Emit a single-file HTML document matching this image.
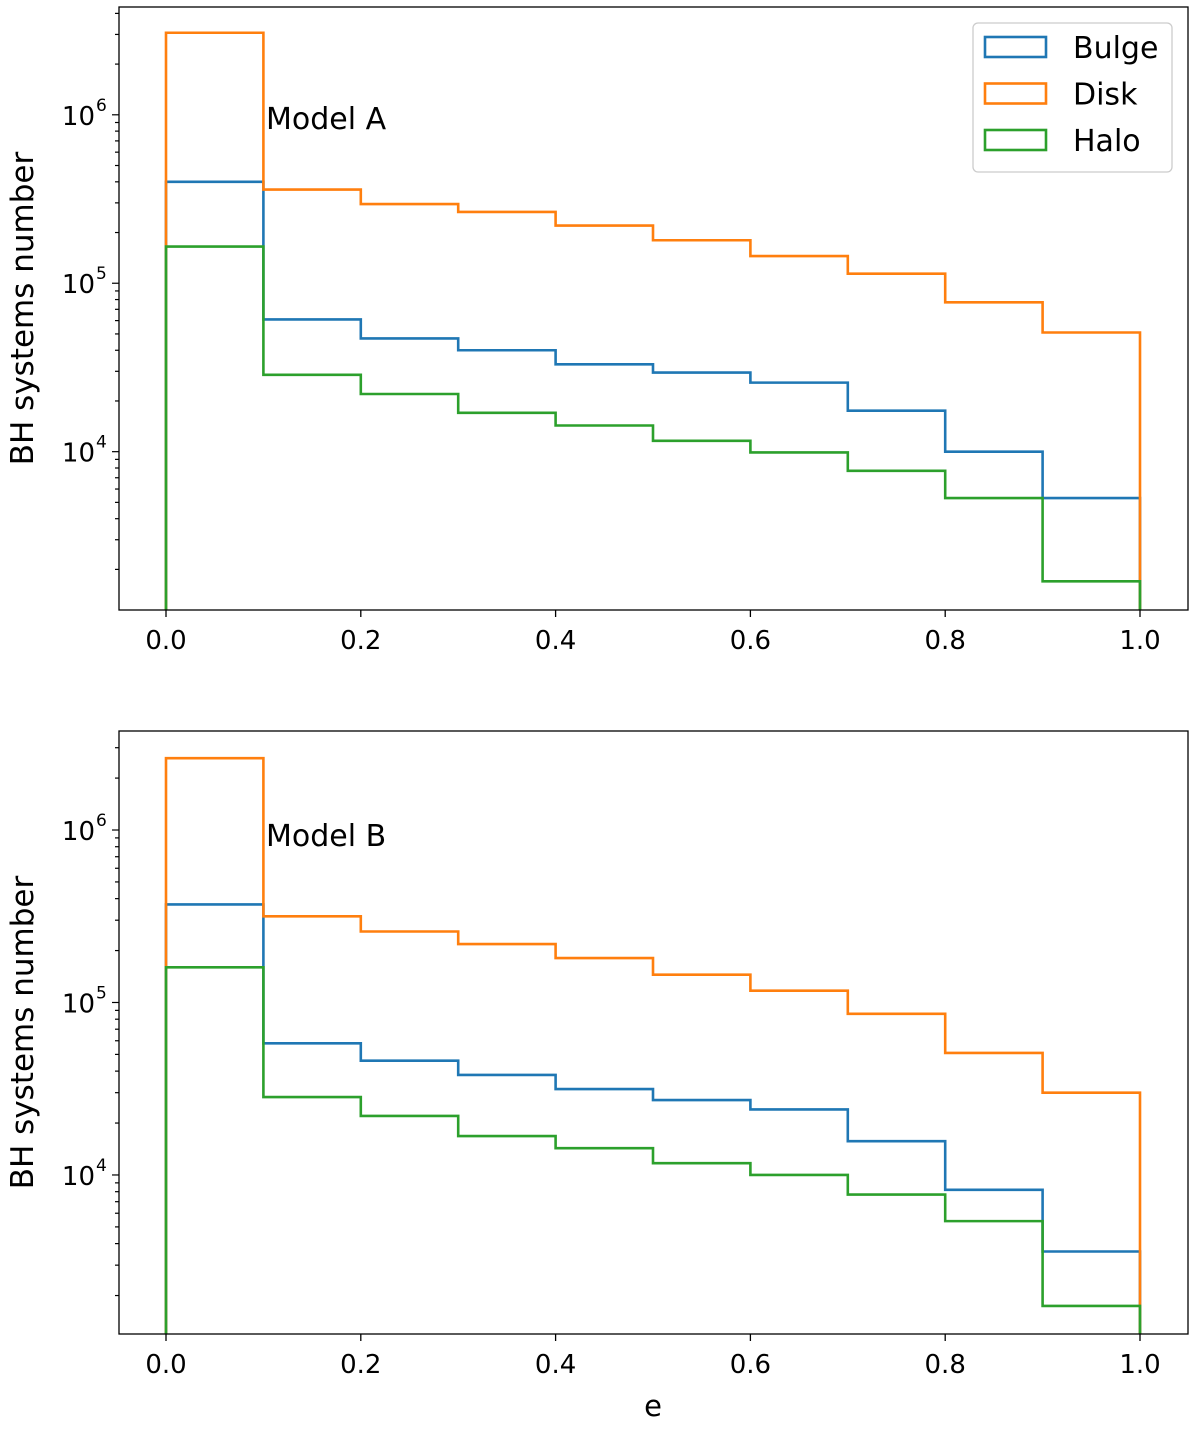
<!DOCTYPE html>
<html><head><meta charset="utf-8"><style>body{margin:0;background:#fff}svg{display:block}text{font-family:"DejaVu Sans","Liberation Sans",sans-serif;fill:#000}</style></head>
<body>
<svg id="chart" width="1200" height="1431" viewBox="0 0 1200 1431" xmlns="http://www.w3.org/2000/svg"></svg>
<script>
const binEdges = [0,0.1,0.2,0.3,0.4,0.5,0.6,0.7,0.8,0.9,1.0];
const seriesNames = ["Bulge","Disk","Halo"];
const seriesColors = ["#1f77b4","#ff7f0e","#2ca02c"];
const xTicks = [0,0.2,0.4,0.6,0.8,1.0];
const xTickLabels = ["0.0","0.2","0.4","0.6","0.8","1.0"];
const yDecades = [4,5,6];
const modelLabels = ["Model A","Model B"];
const bulgeA = [4.0e5,6.1e4,4.7e4,4.0e4,3.3e4,2.95e4,2.57e4,1.75e4,1.0e4,5.3e3];
const diskA  = [3.07e6,3.6e5,2.95e5,2.65e5,2.2e5,1.8e5,1.45e5,1.14e5,7.7e4,5.1e4];
const haloA  = [1.65e5,2.86e4,2.2e4,1.7e4,1.43e4,1.16e4,9.9e3,7.7e3,5.3e3,1.7e3];
const bulgeB = [3.7e5,5.8e4,4.6e4,3.8e4,3.15e4,2.72e4,2.4e4,1.57e4,8.2e3,3.6e3];
const diskB  = [2.61e6,3.16e5,2.58e5,2.18e5,1.81e5,1.45e5,1.17e5,8.6e4,5.1e4,3.0e4];
const haloB  = [1.6e5,2.83e4,2.2e4,1.68e4,1.43e4,1.17e4,1.0e4,7.7e3,5.4e3,1.74e3];

const svg = document.getElementById('chart');
const NS = "http://www.w3.org/2000/svg";
function mk(tag, attrs, parent){const e=document.createElementNS(NS,tag);for(const k in attrs)e.setAttribute(k,attrs[k]);(parent||svg).appendChild(e);return e;}

const panels = [
 {top:7,bottom:610,logTop:6.64,logBot:3.06,series:[bulgeA,diskA,haloA],name:"panel-model-a",label:modelLabels[0],labelY:129,legend:true,xlabel:false},
 {top:731,bottom:1334,logTop:6.574,logBot:3.078,series:[bulgeB,diskB,haloB],name:"panel-model-b",label:modelLabels[1],labelY:846,legend:false,xlabel:true}
];
const L=119,R=1188,x0=166,x1=1140;
function xs(v){return x0+(x1-x0)*v;}

panels.forEach((p,pi)=>{
  const g=mk('g',{});
  
  
  function ys(v){return p.top+(p.logTop-Math.log10(v))/(p.logTop-p.logBot)*(p.bottom-p.top);}
  p.series.forEach((vals,si)=>{
    let d=`M${xs(binEdges[0])},${p.bottom}`;
    vals.forEach((v,i)=>{d+=` L${xs(binEdges[i])},${ys(v)} L${xs(binEdges[i+1])},${ys(v)}`;});
    d+=` L${xs(binEdges[binEdges.length-1])},${p.bottom}`;
    const path=mk('path',{d:d,fill:'none',stroke:seriesColors[si],'stroke-width':2.6},g);
    
    
  });
  mk('rect',{x:L,y:p.top,width:R-L,height:p.bottom-p.top,fill:'none',stroke:'#000','stroke-width':1.3},g);
  xTicks.forEach((t,i)=>{
    mk('line',{x1:xs(t),x2:xs(t),y1:p.bottom,y2:p.bottom+7,stroke:'#000','stroke-width':1.3},g);
    const tx=mk('text',{x:xs(t),y:p.bottom+39,'font-size':26,'text-anchor':'middle'},g);
    tx.textContent=xTickLabels[i];
    
    
  });
  for(let dec=3;dec<=6;dec++){
    for(let m=1;m<10;m++){
      const v=m*Math.pow(10,dec);const lv=Math.log10(v);
      if(lv<p.logBot||lv>p.logTop)continue;
      const y=ys(v);
      mk('line',{x1:L,x2:L-(m===1?7:4),y1:y,y2:y,stroke:'#000','stroke-width':1.2},g);
    }
  }
  yDecades.forEach(dec=>{
    const y=ys(Math.pow(10,dec));
    const tx=mk('text',{x:95,y:y+10,'font-size':26,'text-anchor':'end'},g);
    tx.textContent='10';
    
    
    const sup=mk('text',{x:96,y:y-4,'font-size':17},g);
    sup.textContent=String(dec);
  });
  const yl=mk('text',{x:0,y:0,'font-size':31,'text-anchor':'middle',transform:`translate(33,${(p.top+p.bottom)/2}) rotate(-90)`},g);
  yl.textContent='BH systems number';
  
  
  const ml=mk('text',{x:266,y:p.labelY,'font-size':30},g);
  ml.textContent=p.label;
  
  
  if(p.legend){
    const lg=mk('g',{},g);
    
    
    mk('rect',{x:973,y:23,width:199,height:149,rx:5,fill:'#fff',stroke:'#ccc','stroke-width':1.3},lg);
    seriesNames.forEach((n,i)=>{
      const ey=47+i*46.5;
      const e=mk('g',{},lg);
      
      
      mk('rect',{x:985,y:ey-10,width:61,height:20,fill:'none',stroke:seriesColors[i],'stroke-width':2.6},e);
      const t=mk('text',{x:1073,y:ey+11,'font-size':30},e);
      t.textContent=n;
    });
  }
  if(p.xlabel){
    const xl=mk('text',{x:653,y:1416,'font-size':29,'text-anchor':'middle'},g);
    xl.textContent='e';
    
    
  }
});
</script>
</body></html>
